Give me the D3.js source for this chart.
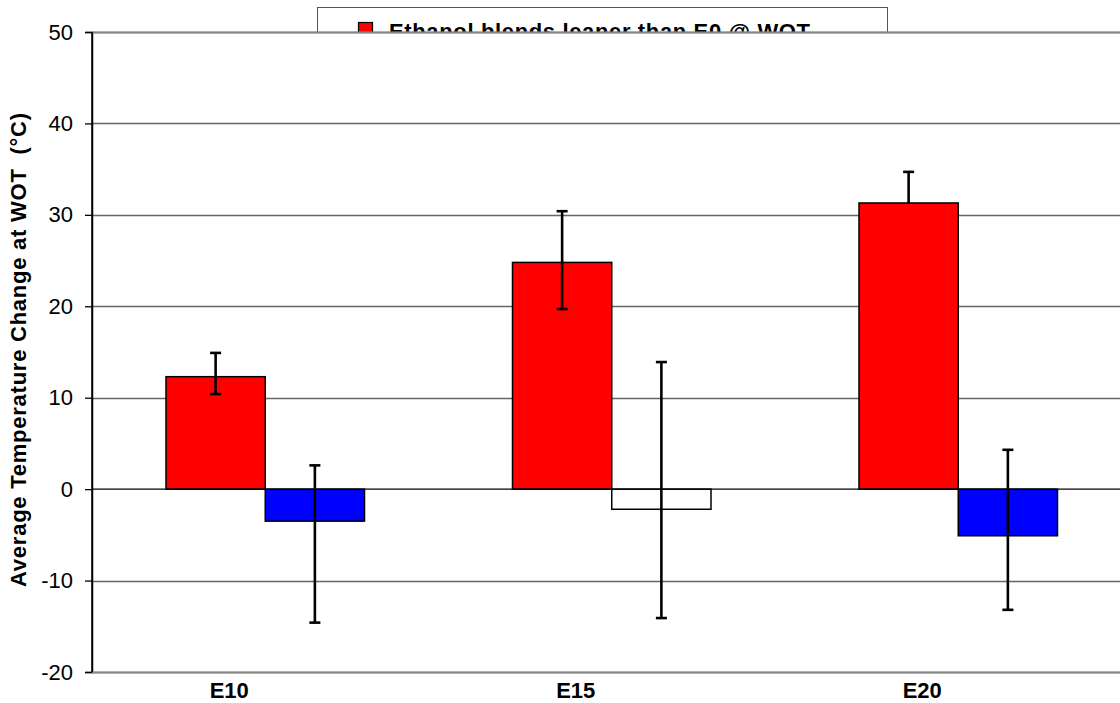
<!DOCTYPE html>
<html>
<head>
<meta charset="utf-8">
<script src="https://cdn.jsdelivr.net/npm/d3@7"></script>
<style>
  html, body { margin: 0; padding: 0; background: #fff; }
  svg { display: block; font-family: Arial, "Liberation Sans", sans-serif; }
</style>
</head>
<body>
<svg id="chart" width="1120" height="703"></svg>
<script>
// Blend categories and per-series values (°C)
const categories = ["E10", "E15", "E20"];
const seriesNames = ["Ethanol blends leaner than E0 @ WOT", "Ethanol blends not leaner than E0 @ WOT"];
const leanerValues = [12.3, 24.8, 31.3];
const leanerErrHigh = [14.9, 30.4, 34.7];
const leanerErrLow = [10.4, 19.7, 31.3];
const otherValues = [-3.5, -2.2, -5.1];
const otherErrHigh = [2.6, 13.9, 4.3];
const otherErrLow = [-14.6, -14.1, -13.2];
const otherFills = ["#0000ff", "#ffffff", "#0000ff"];
const yTicks = [-20, -10, 0, 10, 20, 30, 40, 50];

const svg = d3.select("#chart");
const margin = { left: 92, top: 32, bottom: 31 };
const plotW = 1040; // extends past the right edge of the page
const plotH = 703 - margin.top - margin.bottom;

// Legend box sits behind the plot area
const legend = svg.append("g");
legend.append("rect")
  .attr("x", 317.5).attr("y", 7.5).attr("width", 570).attr("height", 60)
  .attr("fill", "#fff").attr("stroke", "#555").attr("stroke-width", 1);
legend.append("rect")
  .attr("x", 358.5).attr("y", 22.5).attr("width", 14).attr("height", 14)
  .attr("fill", "#ff0000").attr("stroke", "#000").attr("stroke-width", 1.2);
legend.append("text")
  .attr("x", 389).attr("y", 39)
  .attr("font-size", 22).attr("font-weight", "bold").attr("fill", "#000")
  .attr("textLength", 421).attr("lengthAdjust", "spacing")
  .text(seriesNames[0]);

const g = svg.append("g").attr("transform", `translate(${margin.left},${margin.top})`);

// Plot area background covers the lower part of the legend
g.append("rect").attr("x", 0).attr("y", 0).attr("width", plotW).attr("height", plotH).attr("fill", "#fff");

const y = d3.scaleLinear().domain([-20, 50]).range([plotH, 0]);
const x0 = d3.scaleBand().domain(categories).range([0, 346.5 * categories.length]).paddingInner(0).paddingOuter(0);
const groupPad = 74;
const x1 = d3.scaleBand().domain([0, 1]).range([groupPad, x0.bandwidth() - groupPad]);

// Gridlines
g.append("g").selectAll("line").data(yTicks.filter(t => t !== 0)).join("line")
  .attr("x1", 0).attr("x2", plotW)
  .attr("y1", d => Math.round(y(d)) + 0.5).attr("y2", d => Math.round(y(d)) + 0.5)
  .attr("stroke", "#666").attr("stroke-width", 1.3);

// Y axis
const yAxis = g.append("g")
  .call(d3.axisLeft(y).tickValues(yTicks).tickSize(7).tickPadding(12).tickFormat(d => String(d)));
yAxis.select(".domain").attr("stroke", "#000").attr("stroke-width", 1.5);
yAxis.selectAll(".tick line").attr("stroke", "#000").attr("stroke-width", 1.3);
yAxis.selectAll(".tick text").attr("font-size", 22).attr("fill", "#000")
  .attr("font-family", "Arial, 'Liberation Sans', sans-serif");

// Bars
const rows = categories.map((c, i) => ({
  cat: c,
  bars: [
    { s: 0, v: leanerValues[i], hi: leanerErrHigh[i], lo: leanerErrLow[i], fill: "#ff0000" },
    { s: 1, v: otherValues[i], hi: otherErrHigh[i], lo: otherErrLow[i], fill: otherFills[i] }
  ]
}));

const groups = g.selectAll(".grp").data(rows).join("g")
  .attr("class", "grp")
  .attr("transform", d => `translate(${x0(d.cat)},0)`);

groups.selectAll("rect").data(d => d.bars).join("rect")
  .attr("x", d => x1(d.s))
  .attr("width", x1.bandwidth())
  .attr("y", d => y(Math.max(0, d.v)))
  .attr("height", d => Math.abs(y(d.v) - y(0)))
  .attr("fill", d => d.fill)
  .attr("stroke", "#000").attr("stroke-width", 1.5);

// Zero line
g.append("line").attr("x1", 0).attr("x2", plotW)
  .attr("y1", y(0)).attr("y2", y(0))
  .attr("stroke", "#000").attr("stroke-width", 1.3);

// Error bars
const eb = groups.selectAll(".eb").data(d => d.bars).join("g").attr("class", "eb");
eb.append("line")
  .attr("x1", d => x1(d.s) + x1.bandwidth() / 2).attr("x2", d => x1(d.s) + x1.bandwidth() / 2)
  .attr("y1", d => y(d.hi)).attr("y2", d => y(d.lo))
  .attr("stroke", "#000").attr("stroke-width", 2.6);
eb.append("line")
  .attr("x1", d => x1(d.s) + x1.bandwidth() / 2 - 5.5).attr("x2", d => x1(d.s) + x1.bandwidth() / 2 + 5.5)
  .attr("y1", d => y(d.hi)).attr("y2", d => y(d.hi))
  .attr("stroke", "#000").attr("stroke-width", 2.6);
eb.filter(d => d.lo < d.v).append("line")
  .attr("x1", d => x1(d.s) + x1.bandwidth() / 2 - 5.5).attr("x2", d => x1(d.s) + x1.bandwidth() / 2 + 5.5)
  .attr("y1", d => y(d.lo)).attr("y2", d => y(d.lo))
  .attr("stroke", "#000").attr("stroke-width", 2.6);

// Plot area top and bottom borders
g.append("line").attr("x1", 0).attr("x2", plotW).attr("y1", 0.5).attr("y2", 0.5)
  .attr("stroke", "#888").attr("stroke-width", 2);
g.append("line").attr("x1", 0).attr("x2", plotW).attr("y1", plotH + 0.5).attr("y2", plotH + 0.5)
  .attr("stroke", "#888").attr("stroke-width", 2);
g.append("line").attr("x1", 0).attr("x2", 0).attr("y1", 0).attr("y2", plotH)
  .attr("stroke", "#000").attr("stroke-width", 1.5);

// Category labels
g.append("g").selectAll("text").data(categories).join("text")
  .attr("x", d => x0(d) + x0.bandwidth() / 2 - 36)
  .attr("y", plotH + 26)
  .attr("text-anchor", "middle")
  .attr("font-size", 22).attr("font-weight", "bold").attr("fill", "#000")
  .text(d => d);

// Y axis title
svg.append("text")
  .attr("transform", `translate(26,${margin.top + plotH / 2 - 2}) rotate(-90)`)
  .attr("text-anchor", "middle")
  .attr("font-size", 22).attr("font-weight", "bold").attr("fill", "#000")
  .style("white-space", "pre")
  .attr("textLength", 474).attr("lengthAdjust", "spacing")
  .text("Average Temperature Change at WOT  (°C)");
</script>
</body>
</html>
